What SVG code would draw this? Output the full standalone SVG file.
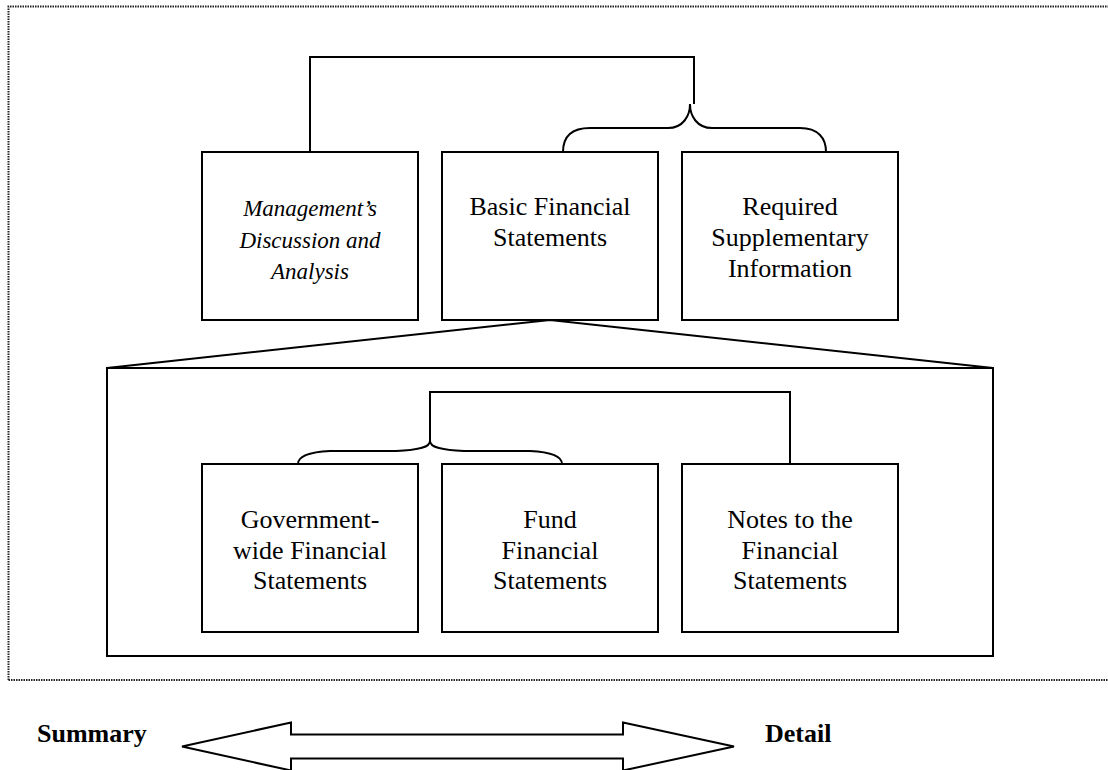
<svg xmlns="http://www.w3.org/2000/svg" width="1108" height="770" viewBox="0 0 1108 770">
<style>
.box{fill:#fff;stroke:#000;stroke-width:2}
.ln{fill:none;stroke:#000;stroke-width:2}
.t{font-family:"Liberation Serif","Times New Roman",serif;font-size:26px;fill:#000;text-anchor:middle}
.ti{font-family:"Liberation Serif","Times New Roman",serif;font-style:italic;font-size:23px;fill:#000;text-anchor:middle}
.tb{font-family:"Liberation Serif","Times New Roman",serif;font-weight:bold;font-size:26px;fill:#000}
</style>
<rect width="1108" height="770" fill="#fff"/>
<path d="M8.5,680 L8.5,6.5 L1110,6.5 M8.5,680 L1110,680" fill="none" stroke="#222" stroke-width="2" stroke-dasharray="1.5 1"/>
<g id="group-basic">
<rect class="box" x="107" y="368" width="886" height="288"/>
</g>
<g id="connectors">
<path class="ln" d="M310,152 L310,57 L694,57 L694,104"/>
<path class="ln" d="M563,152 C563,138 570,128 590,128 L668,128 C683,128 690,116 690,104 C690,116 697,128 712,128 L800,128 C818,128 826,138 826,152"/>
<path class="ln" d="M107,368 L550,320 L993,368"/>
<path class="ln" d="M790,464 L790,392 L430,392 L430,441"/>
<path class="ln" d="M298,464 C298,456 310,452 330,451 L396,451 C420,450 430,447 430,441 C430,447 440,450 464,451 L530,451 C550,452 562,456 562,464"/>
</g>
<g id="mdna">
<rect class="box" x="202" y="152" width="216" height="168"/>
<text class="ti" x="310" y="216">Management’s</text>
<text class="ti" x="310" y="248">Discussion and</text>
<text class="ti" x="310" y="279">Analysis</text>
</g>
<g id="bfs">
<rect class="box" x="442" y="152" width="216" height="168"/>
<text class="t" x="550" y="215">Basic Financial</text>
<text class="t" x="550" y="246">Statements</text>
</g>
<g id="rsi">
<rect class="box" x="682" y="152" width="216" height="168"/>
<text class="t" x="790" y="215">Required</text>
<text class="t" x="790" y="246">Supplementary</text>
<text class="t" x="790" y="277">Information</text>
</g>
<g id="gwfs">
<rect class="box" x="202" y="464" width="216" height="168"/>
<text class="t" x="310" y="528">Government-</text>
<text class="t" x="310" y="559">wide Financial</text>
<text class="t" x="310" y="589">Statements</text>
</g>
<g id="ffs">
<rect class="box" x="442" y="464" width="216" height="168"/>
<text class="t" x="550" y="528">Fund</text>
<text class="t" x="550" y="559">Financial</text>
<text class="t" x="550" y="589">Statements</text>
</g>
<g id="notes">
<rect class="box" x="682" y="464" width="216" height="168"/>
<text class="t" x="790" y="528">Notes to the</text>
<text class="t" x="790" y="559">Financial</text>
<text class="t" x="790" y="589">Statements</text>
</g>
<g id="scale">
<text class="tb" x="37" y="742">Summary</text>
<text class="tb" x="765" y="742">Detail</text>
<path class="ln" d="M182,746.5 L291,722.5 L291,734.5 L623,734.5 L623,722.5 L734,746.5 L623,770.5 L623,758.5 L291,758.5 L291,770.5 Z"/>
</g>
</svg>
